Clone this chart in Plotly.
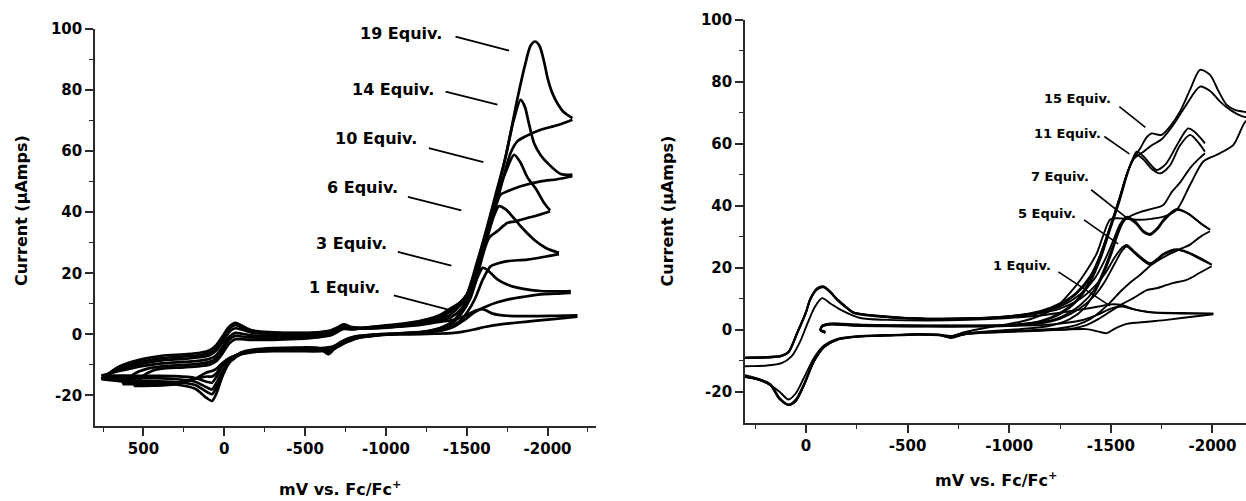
import plotly.graph_objects as go

# ---------------------------------------------------------------- left panel
# cyclic voltammograms, potential in mV vs Fc/Fc+, current in microamps
# each scan split into cathodic sweep (FWD) and anodic return (REV)

L1_FWD_E = [760, 650, 500, 386, 250, 150, 90, 50, 10, -30, -68, -110, -172, -300, -450, -580, -660, -700, -739, -790,
            -900, -1050, -1200, -1320, -1420, -1500, -1555, -1603, -1660, -1750, -1900, -2050, -2185]
L1_FWD_I = [-14.7, -10.5, -8.0, -7.0, -6.5, -6.0, -5.2, -3.5, -0.5, 2.5, 3.8, 2.8, 1.3, 0.7, 0.5, 0.7, 1.3, 2.3, 3.3, 2.4,
            2.0, 2.4, 3.0, 4.0, 4.8, 6.3, 7.8, 8.2, 6.8, 6.1, 6.0, 6.1, 6.2]
L1_REV_E = [-2185, -2050, -1917, -1800, -1710, -1620, -1545, -1480, -1421, -1300, -1150, -1000, -850, -760, -700, -645,
            -590, -450, -300, -180, -100, -40, 10, 50, 76, 110, 180, 300, 450, 600, 760]
L1_REV_I = [5.8, 5.1, 4.4, 3.8, 3.3, 2.5, 1.6, 0.9, 0.5, 0.2, 0.0, 0.0, -0.5, -1.5, -3.5, -6.5,
            -4.6, -4.3, -4.5, -5.0, -6.0, -8.5, -13.5, -19.5, -21.8, -20.8, -17.8, -16.4, -16.0, -15.6, -14.7]

L3_FWD_E = [760, 650, 500, 386, 250, 150, 90, 50, 10, -30, -68, -110, -172, -300, -450, -580, -660, -700, -739, -790,
            -900, -1050, -1200, -1320, -1400, -1460, -1520, -1570, -1600, -1640, -1690, -1750, -1813, -1900, -1958,
            -2050, -2144]
L3_FWD_I = [-14.5, -11.0, -8.8, -7.8, -7.2, -6.8, -6.0, -4.5, -1.5, 1.7, 3.0, 2.2, 1.0, 0.5, 0.4, 0.6, 1.1, 2.0, 3.0, 2.2,
            2.0, 2.5, 3.2, 4.4, 5.5, 8.0, 13.0, 19.0, 21.8, 20.5, 18.0, 16.3, 15.3, 14.5, 14.2, 14.1, 14.2]
L3_REV_E = [-2144, -2050, -1958, -1850, -1751, -1690, -1628, -1545, -1480, -1420, -1350, -1250, -1100, -950, -850, -760,
            -700, -645, -590, -450, -300, -180, -100, -40, 10, 50, 76, 110, 180, 300, 450, 600, 760]
L3_REV_I = [13.6, 13.3, 13.1, 12.3, 11.4, 10.5, 9.3, 7.1, 4.5, 2.5, 1.3, 0.6, 0.2, 0.0, -0.6, -1.8,
            -3.5, -5.8, -4.6, -4.6, -4.8, -5.3, -6.3, -8.5, -12.5, -17.5, -19.6, -18.8, -16.6, -15.6, -15.3, -15.0, -14.5]

L6_FWD_E = [750, 650, 500, 386, 250, 150, 90, 50, 10, -30, -68, -110, -172, -300, -450, -580, -660, -700, -739, -790,
            -900, -1050, -1200, -1320, -1400, -1460, -1500, -1560, -1620, -1670, -1700, -1740, -1793, -1834, -1917,
            -1990, -2071]
L6_FWD_I = [-14.0, -11.5, -9.5, -8.5, -8.0, -7.5, -6.8, -5.3, -2.5, 0.8, 2.0, 1.5, 0.6, 0.2, 0.2, 0.5, 1.0, 1.8, 2.8, 2.2,
            2.1, 2.6, 3.4, 4.8, 6.5, 9.5, 12.0, 21.0, 30.5, 39.0, 42.0, 41.0, 38.0, 35.4, 31.0, 28.3, 26.7]
L6_REV_E = [-2071, -1990, -1875, -1751, -1690, -1648, -1600, -1550, -1500, -1450, -1380, -1300, -1200, -1050, -900, -800,
            -720, -660, -620, -500, -300, -180, -100, -40, 10, 50, 76, 110, 180, 300, 450, 600, 750]
L6_REV_I = [26.3, 25.5, 24.5, 24.0, 23.2, 22.3, 18.0, 11.5, 7.0, 4.0, 2.0, 1.0, 0.5, 0.2, -0.2, -0.8,
            -2.5, -4.5, -5.0, -4.8, -5.0, -5.6, -6.6, -8.8, -12.0, -16.0, -18.0, -17.3, -15.5, -14.6, -14.3, -14.2, -14.0]

L10_FWD_E = [760, 650, 500, 386, 250, 150, 90, 50, 10, -30, -68, -110, -172, -300, -450, -580, -660, -700, -739, -790,
             -900, -1050, -1200, -1320, -1400, -1460, -1500, -1560, -1620, -1680, -1740, -1793, -1830, -1875, -1930,
             -1979, -2016]
L10_FWD_I = [-13.5, -12.0, -10.3, -9.5, -9.0, -8.6, -8.0, -6.8, -4.0, -0.8, 0.5, 0.2, -0.3, -0.5, -0.4, -0.1, 0.6, 1.5,
             2.5, 2.0, 2.2, 2.8, 3.7, 5.2, 7.5, 10.5, 13.0, 22.0, 33.0, 44.0, 53.0, 58.8, 56.5, 51.5, 47.5, 43.0, 40.6]
L10_REV_E = [-2016, -1940, -1875, -1800, -1751, -1690, -1638, -1600, -1560, -1520, -1470, -1420, -1350, -1250, -1100,
             -950, -820, -740, -670, -600, -450, -300, -180, -100, -40, 10, 50, 76, 110, 180, 300, 450, 600, 760]
L10_REV_I = [40.3, 39.0, 38.1, 37.0, 36.5, 33.8, 31.6, 26.0, 18.0, 11.5, 7.0, 4.0, 2.0, 0.8, 0.2,
             -0.3, -1.0, -2.5, -4.0, -4.5, -4.5, -4.8, -5.2, -6.2, -8.0, -10.5, -14.0, -15.8, -15.5, -14.3, -13.7,
             -13.6, -13.5, -13.5]

L14_FWD_E = [630, 560, 480, 386, 250, 150, 90, 50, 10, -30, -68, -110, -172, -300, -450, -580, -660, -700, -739, -790,
             -900, -1050, -1200, -1320, -1400, -1460, -1500, -1560, -1620, -1680, -1740, -1790, -1834, -1860, -1885,
             -1917, -1960, -2000, -2082, -2154]
L14_FWD_I = [-16.3, -13.0, -11.3, -10.5, -10.0, -9.6, -9.0, -7.8, -5.0, -1.8, -0.5, -0.7, -1.0, -1.2, -1.0, -0.6, 0.2,
             1.2, 2.2, 1.8, 2.3, 3.0, 4.0, 5.6, 8.0, 10.0, 12.5, 22.0, 33.5, 45.0, 58.0, 70.0, 76.8, 74.5, 69.0, 62.6,
             58.5, 56.1, 52.5, 52.3]
L14_REV_E = [-2154, -2060, -1958, -1834, -1760, -1710, -1680, -1640, -1600, -1560, -1520, -1470, -1420, -1350, -1250,
             -1100, -950, -820, -740, -670, -600, -450, -300, -180, -100, -40, 10, 50, 76, 110, 180, 300, 450, 560, 630]
L14_REV_I = [51.8, 50.8, 50.1, 48.5, 47.0, 45.8, 42.0, 36.0, 28.0, 20.0, 13.0, 7.5, 4.3, 2.2, 0.9,
             0.3, -0.3, -1.2, -2.8, -4.5, -5.0, -5.0, -5.2, -5.5, -6.3, -7.8, -10.0, -12.8, -13.8, -13.8, -14.5,
             -15.8, -16.2, -16.3, -16.3]

L19_FWD_E = [560, 500, 440, 386, 250, 150, 90, 50, 10, -30, -68, -110, -172, -300, -450, -580, -660, -700, -739, -790,
             -900, -1050, -1200, -1320, -1400, -1460, -1500, -1560, -1620, -1680, -1740, -1813, -1860, -1895, -1923,
             -1950, -1980, -2000, -2030, -2061, -2100, -2154]
L19_FWD_I = [-16.9, -13.5, -11.8, -11.2, -10.8, -10.4, -9.9, -8.8, -6.2, -3.0, -1.6, -1.6, -1.8, -1.8, -1.5, -1.0, -0.3,
             0.8, 1.8, 1.6, 2.4, 3.2, 4.3, 6.0, 8.5, 10.5, 13.0, 23.0, 34.0, 46.0, 58.0, 77.0, 88.0, 94.5, 95.9, 94.5,
             89.0, 84.0, 79.0, 75.7, 72.8, 70.8]
L19_REV_E = [-2154, -2060, -1958, -1870, -1813, -1772, -1740, -1700, -1650, -1600, -1560, -1520, -1470, -1420, -1350,
             -1250, -1100, -950, -820, -740, -670, -600, -450, -300, -180, -100, -40, 10, 50, 76, 110, 180, 300, 450, 560]
L19_REV_I = [70.3, 68.5, 67.0, 65.0, 63.2, 59.5, 54.0, 46.0, 37.0, 28.5, 20.5, 13.5, 8.0, 4.6, 2.4,
             1.0, 0.4, -0.2, -1.3, -3.0, -5.0, -5.5, -5.5, -5.5, -5.8, -6.5, -7.5, -9.3, -11.3, -12.0, -12.5, -14.5,
             -16.3, -16.8, -16.9]

# --------------------------------------------------------------- right panel
# first cathodic sweep (FWD1) from the rest potential, anodic return (REV),
# then second cathodic sweep (FWD2)

R1_FWD1_E = [-95, -72, -80, -110, -160, -250, -400, -600, -800, -1000, -1150, -1250, -1350, -1440, -1500, -1553, -1600,
             -1693, -1800, -1900, -2004]
R1_FWD1_I = [-1.0, -0.3, 1.0, 1.6, 1.6, 1.3, 1.1, 1.0, 1.0, 1.2, 1.5, 2.0, 3.0, 5.0, 6.8, 7.5, 6.8, 5.6, 5.3, 5.2, 5.2]
R1_REV_E = [-2004, -1900, -1775, -1680, -1578, -1520, -1480, -1440, -1380, -1250, -1100, -900, -780, -714, -660, -550,
            -400, -250, -150, -90, -40, 10, 50, 86, 130, 200, 280, 350]
R1_REV_I = [5.0, 4.2, 3.2, 2.6, 1.9, 0.4, -1.1, -0.6, 0.2, 0.0, -0.3, -0.8, -1.5, -2.7, -1.8, -1.5,
            -1.8, -2.2, -3.0, -5.0, -9.0, -15.5, -20.5, -22.5, -20.0, -16.8, -15.0, -14.0]
R1_FWD2_E = [350, 300, 200, 120, 70, 30, -10, -45, -79, -120, -169, -267, -400, -600, -800, -1000, -1150, -1250, -1350,
             -1440, -1500, -1553, -1620, -1700, -1850, -2004]
R1_FWD2_I = [-12.0, -11.8, -11.6, -10.8, -8.5, -4.0, 2.5, 7.5, 10.2, 8.5, 6.5, 3.8, 3.2, 3.0, 3.2, 3.8, 4.6, 5.5, 6.5,
             7.5, 8.2, 8.0, 6.5, 5.7, 5.4, 5.2]

R5_FWD1_E = [-95, -72, -80, -110, -160, -250, -400, -600, -800, -1000, -1150, -1250, -1350, -1420, -1470, -1520, -1555,
             -1578, -1620, -1693, -1730, -1758, -1824, -1880, -1950, -1996]
R5_FWD1_I = [-0.9, -0.2, 1.1, 1.7, 1.7, 1.4, 1.2, 1.1, 1.1, 1.3, 2.0, 3.5, 7.0, 11.0, 15.5, 21.5, 25.5, 26.9, 24.5, 21.0,
             22.5, 24.2, 25.8, 24.8, 22.5, 21.0]
R5_REV_E = [-1996, -1940, -1873, -1800, -1725, -1677, -1611, -1562, -1500, -1440, -1380, -1300, -1150, -950, -800, -740,
            -714, -660, -550, -400, -250, -150, -90, -40, 10, 50, 86, 130, 176, 240, 350]
R5_REV_I = [20.5, 18.5, 16.1, 15.0, 13.4, 12.8, 10.2, 8.5, 6.0, 3.5, 1.5, 0.3, -0.3, -0.8, -1.3, -2.0,
            -2.5, -1.8, -1.6, -1.9, -2.3, -3.3, -5.5, -10.0, -17.5, -22.5, -24.2, -22.0, -17.5, -15.8, -14.5]
R5_FWD2_E = [350, 300, 200, 120, 86, 44, 0, -21, -55, -87, -120, -152, -200, -234, -400, -600, -800, -1000, -1150, -1250,
             -1350, -1420, -1470, -1520, -1555, -1578, -1620, -1693, -1730, -1758, -1824, -1880, -1950, -1996]
R5_FWD2_I = [-9.3, -9.1, -9.0, -8.5, -7.3, -1.3, 5.5, 9.7, 13.0, 13.7, 12.0, 9.7, 7.0, 5.4, 4.0, 3.4, 3.5, 4.2, 5.3, 6.8,
             10.0, 14.0, 18.0, 23.5, 26.5, 27.4, 25.0, 21.5, 23.0, 24.5, 26.0, 25.0, 22.8, 21.0]

R7_FWD1_E = [-95, -72, -80, -110, -160, -250, -400, -600, -800, -1000, -1150, -1250, -1350, -1420, -1470, -1510, -1545,
             -1578, -1620, -1660, -1693, -1730, -1758, -1824, -1880, -1940, -1988]
R7_FWD1_I = [-0.8, -0.1, 1.2, 1.8, 1.8, 1.5, 1.3, 1.2, 1.2, 1.4, 2.3, 4.0, 8.0, 13.0, 20.0, 27.0, 33.0, 36.0, 34.5, 31.5,
             30.6, 32.5, 35.0, 38.7, 37.5, 34.5, 32.3]
R7_REV_E = [-1988, -1940, -1890, -1840, -1790, -1700, -1640, -1600, -1550, -1500, -1450, -1400, -1330, -1250, -1100, -950,
            -800, -740, -714, -660, -550, -400, -250, -150, -90, -40, 10, 50, 86, 130, 176, 240, 350]
R7_REV_I = [31.8, 30.0, 27.5, 26.0, 24.5, 21.0, 17.5, 15.5, 12.5, 9.0, 6.0, 3.5, 1.5, 0.5, -0.2, -0.7,
            -1.2, -2.0, -2.4, -1.7, -1.5, -1.8, -2.2, -3.2, -5.5, -10.0, -17.8, -22.8, -24.2, -22.2, -17.7, -15.9, -14.6]
R7_FWD2_E = [350, 300, 200, 120, 86, 44, 0, -21, -55, -87, -120, -152, -200, -234, -400, -600, -800, -1000, -1150, -1250,
             -1350, -1420, -1470, -1510, -1545, -1578, -1620, -1660, -1693, -1730, -1758, -1824, -1880, -1940, -1988]
R7_FWD2_I = [-9.0, -8.9, -8.8, -8.3, -7.1, -1.0, 5.8, 10.0, 13.3, 13.9, 12.2, 9.9, 7.2, 5.6, 4.2, 3.6, 3.7, 4.4, 5.6, 7.5,
             11.5, 16.5, 22.5, 28.5, 34.0, 36.5, 35.0, 32.0, 31.0, 33.0, 35.5, 39.0, 37.5, 34.5, 32.3]

R11_FWD1_E = [-95, -72, -80, -110, -160, -250, -400, -600, -800, -1000, -1150, -1250, -1330, -1400, -1450, -1500, -1545,
              -1580, -1610, -1627, -1660, -1700, -1725, -1770, -1820, -1860, -1881, -1910, -1940, -1963]
R11_FWD1_I = [-0.7, 0.0, 1.3, 1.9, 1.9, 1.6, 1.4, 1.3, 1.3, 1.5, 2.6, 5.0, 9.0, 15.5, 23.0, 33.0, 42.0, 50.0, 55.5, 57.5,
              56.0, 53.0, 51.6, 53.5, 59.0, 63.5, 65.0, 64.0, 62.0, 60.2]
R11_REV_E = [-1963, -1930, -1890, -1840, -1800, -1758, -1700, -1644, -1590, -1562, -1530, -1500, -1460, -1420, -1370,
             -1300, -1200, -1050, -900, -780, -714, -650, -550, -400, -250, -150, -90, -40, 10, 50, 86, 130, 176, 240, 350]
R11_REV_I = [57.0, 55.0, 52.2, 47.5, 44.5, 40.3, 39.0, 38.0, 36.5, 35.0, 30.0, 24.0, 17.5, 12.0, 7.0,
             3.5, 1.3, 0.2, -0.5, -1.2, -2.2, -1.6, -1.5, -1.8, -2.2, -3.3, -5.6, -10.2, -18.0, -23.0, -24.2, -22.3,
             -17.8, -16.0, -14.7]
R11_FWD2_E = [350, 300, 200, 120, 86, 44, 0, -21, -55, -87, -120, -152, -200, -234, -400, -600, -800, -1000, -1150,
              -1250, -1330, -1400, -1450, -1500, -1545, -1580, -1610, -1627, -1660, -1700, -1742, -1790, -1840, -1890,
              -1930, -1963]
R11_FWD2_I = [-9.1, -9.0, -8.9, -8.4, -7.2, -1.2, 5.6, 9.8, 13.2, 13.8, 12.1, 9.8, 7.1, 5.5, 4.1, 3.5, 3.6, 4.3, 5.8, 8.0,
              11.5, 17.0, 24.0, 33.5, 42.5, 50.5, 55.0, 56.5, 55.0, 52.0, 50.5, 53.0, 59.5, 62.9, 60.5, 57.5]

R15_FWD1_E = [-95, -72, -80, -110, -160, -250, -400, -600, -800, -1000, -1150, -1250, -1330, -1400, -1450, -1500, -1545,
              -1580, -1610, -1644, -1675, -1701, -1730, -1750, -1790, -1840, -1890, -1939, -1988, -2030, -2070, -2110,
              -2152, -2200]
R15_FWD1_I = [-0.6, 0.1, 1.4, 2.0, 2.0, 1.7, 1.5, 1.4, 1.4, 1.6, 2.8, 5.5, 9.5, 16.5, 24.5, 34.0, 43.0, 50.5, 55.0, 58.5,
              62.0, 63.4, 63.0, 62.9, 65.5, 70.4, 77.5, 83.9, 82.3, 77.0, 72.6, 71.0, 70.4, 69.8]
R15_REV_E = [-2200, -2162, -2103, -2021, -1955, -1890, -1824, -1760, -1700, -1640, -1580, -1530, -1496, -1460, -1431,
             -1390, -1349, -1300, -1234, -1150, -1050, -900, -780, -714, -650, -550, -400, -250, -150, -90, -40, 10, 50,
             86, 130, 176, 240, 350]
R15_REV_I = [68.5, 67.2, 59.7, 56.5, 54.3, 46.8, 38.7, 36.5, 35.8, 35.5, 35.8, 36.0, 35.5, 30.0, 24.7,
             20.0, 16.0, 12.0, 7.5, 4.5, 2.5, 0.8, -0.8, -2.0, -1.5, -1.4, -1.7, -2.1, -3.2, -5.4, -10.0, -17.8, -23.0,
             -24.3, -22.4, -17.8, -16.0, -14.8]
R15_FWD2_E = [350, 300, 200, 120, 86, 44, 0, -21, -55, -87, -120, -152, -200, -234, -400, -600, -800, -1000, -1150,
              -1250, -1330, -1400, -1450, -1500, -1545, -1580, -1610, -1661, -1700, -1750, -1807, -1870, -1939, -1990,
              -2040, -2087, -2152, -2200]
R15_FWD2_I = [-9.2, -9.1, -9.0, -8.5, -7.3, -1.2, 5.7, 9.9, 13.4, 14.0, 12.3, 10.0, 7.3, 5.6, 4.3, 3.6, 3.7, 4.4, 6.0,
              8.5, 12.0, 17.5, 24.5, 34.0, 43.0, 50.5, 55.0, 57.5, 59.5, 61.5, 66.1, 72.5, 78.5, 77.0, 73.5, 71.0, 68.8,
              68.3]

# ------------------------------------------------------------------- labels
LEFT_LABELS = ["19 Equiv.", "14 Equiv.", "10 Equiv.", "6 Equiv.", "3 Equiv.", "1 Equiv."]
RIGHT_LABELS = ["15 Equiv.", "11 Equiv.", "7 Equiv.", "5 Equiv.", "1 Equiv."]

X_TICKS_LEFT = [500, 0, -500, -1000, -1500, -2000]
X_MINOR_LEFT = [750, 250, -250, -750, -1250, -1750, -2250]
X_TICKS_RIGHT = [0, -500, -1000, -1500, -2000]
X_MINOR_RIGHT = [250, -250, -750, -1250, -1750]
Y_TICKS = [-20, 0, 20, 40, 60, 80, 100]
Y_MINOR = [-10, 10, 30, 50, 70, 90]

X_TITLE = "mV vs. Fc/Fc<sup>+</sup>"
Y_TITLE = "Current (μAmps)"

# ------------------------------------------------------------------- figure
FONT = "DejaVu Sans"
INK = "black"
AXIS = "#2a2a2a"

fig = go.Figure()


def add_branch(e, i, xa, ya, width):
    fig.add_trace(go.Scatter(
        x=e, y=i, mode="lines", xaxis=xa, yaxis=ya,
        line=dict(color=INK, width=width, shape="spline", smoothing=0.8),
        showlegend=False, hoverinfo="skip"))


left_scans = [
    (L1_FWD_E, L1_FWD_I), (L1_REV_E, L1_REV_I),
    (L3_FWD_E, L3_FWD_I), (L3_REV_E, L3_REV_I),
    (L6_FWD_E, L6_FWD_I), (L6_REV_E, L6_REV_I),
    (L10_FWD_E, L10_FWD_I), (L10_REV_E, L10_REV_I),
    (L14_FWD_E, L14_FWD_I), (L14_REV_E, L14_REV_I),
    (L19_FWD_E, L19_FWD_I), (L19_REV_E, L19_REV_I),
]
for e, i in left_scans:
    add_branch(e, i, "x", "y", 2.7)

right_scans = [
    (R1_FWD1_E, R1_FWD1_I), (R1_REV_E, R1_REV_I), (R1_FWD2_E, R1_FWD2_I),
    (R5_FWD1_E, R5_FWD1_I), (R5_REV_E, R5_REV_I), (R5_FWD2_E, R5_FWD2_I),
    (R7_FWD1_E, R7_FWD1_I), (R7_REV_E, R7_REV_I), (R7_FWD2_E, R7_FWD2_I),
    (R11_FWD1_E, R11_FWD1_I), (R11_REV_E, R11_REV_I), (R11_FWD2_E, R11_FWD2_I),
    (R15_FWD1_E, R15_FWD1_I), (R15_REV_E, R15_REV_I), (R15_FWD2_E, R15_FWD2_I),
]
for e, i in right_scans:
    add_branch(e, i, "x2", "y2", 1.9)

# label text anchors and leader lines (data coordinates of each panel)
left_text_pos = [(-1359, 98.6), (-1307, 80.1), (-1204, 64.1), (-1086, 48.2), (-1018, 29.7), (-977, 15.4)]
left_leaders = [((-1431, 97.5), (-1762, 92.9)), ((-1369, 79.5), (-1690, 75.2)),
                ((-1266, 61.0), (-1603, 56.4)), ((-1136, 45.0), (-1467, 40.6)),
                ((-1074, 27.0), (-1405, 22.5)), ((-1049, 12.8), (-1380, 8.2))]
right_text_pos = [(-1512, 74.7), (-1460, 63.3), (-1403, 49.5), (-1337, 37.4), (-1217, 20.7)]
right_leaders = [((-1542, 72.0), (-1670, 65.3)), ((-1468, 62.4), (-1591, 56.8)),
                 ((-1403, 45.2), (-1575, 36.3)), ((-1368, 35.5), (-1536, 27.7)),
                 ((-1242, 18.7), (-1496, 7.7))]

annotations = []
shapes = []
for txt, (x, y), ((x0, y0), (x1, y1)) in zip(LEFT_LABELS, left_text_pos, left_leaders):
    annotations.append(dict(text=txt, x=x, y=y, xref="x", yref="y", xanchor="right", yanchor="middle",
                            showarrow=False, font=dict(family=FONT, size=16, color=INK, weight="bold")))
    shapes.append(dict(type="line", xref="x", yref="y", x0=x0, y0=y0, x1=x1, y1=y1,
                       line=dict(color=INK, width=1.8)))
for txt, (x, y), ((x0, y0), (x1, y1)) in zip(RIGHT_LABELS, right_text_pos, right_leaders):
    annotations.append(dict(text=txt, x=x, y=y, xref="x2", yref="y2", xanchor="right", yanchor="middle",
                            showarrow=False, font=dict(family=FONT, size=13, color=INK, weight="bold")))
    shapes.append(dict(type="line", xref="x2", yref="y2", x0=x0, y0=y0, x1=x1, y1=y1,
                       line=dict(color=INK, width=1.6)))

title_font = dict(family=FONT, size=16, color=INK, weight="bold")
annotations += [
    dict(text=Y_TITLE, x=21 / 1246, y=(501 - 211) / 501, xref="paper", yref="paper", textangle=-90,
         xanchor="center", yanchor="middle", showarrow=False, font=title_font),
    dict(text=Y_TITLE, x=666.5 / 1246, y=(501 - 211) / 501, xref="paper", yref="paper", textangle=-90,
         xanchor="center", yanchor="middle", showarrow=False, font=title_font),
    dict(text=X_TITLE, x=340 / 1246, y=(501 - 488) / 501, xref="paper", yref="paper",
         xanchor="center", yanchor="middle", showarrow=False, font=title_font),
    dict(text=X_TITLE, x=996 / 1246, y=(501 - 479) / 501, xref="paper", yref="paper",
         xanchor="center", yanchor="middle", showarrow=False, font=title_font),
]

tick_font = dict(family=FONT, size=15, color=INK, weight="bold")


def axis_style(tickvals, minorvals):
    return dict(
        showgrid=False, zeroline=False, showline=True, linecolor=AXIS, linewidth=1.6,
        ticks="outside", ticklen=8, tickwidth=1.6, tickcolor=AXIS,
        tickmode="array", tickvals=tickvals, ticktext=[str(v) for v in tickvals],
        minor=dict(ticks="outside", ticklen=4, tickwidth=1.4, tickcolor=AXIS,
                   tickmode="array", tickvals=minorvals, showgrid=False),
        tickfont=tick_font, automargin=False, fixedrange=True,
    )


fig.update_layout(
    width=1246, height=501,
    margin=dict(l=0, r=0, t=0, b=0),
    paper_bgcolor="white", plot_bgcolor="white",
    xaxis=dict(domain=[95 / 1246, 596 / 1246], range=[800, -2300], anchor="y",
               **axis_style(X_TICKS_LEFT, X_MINOR_LEFT)),
    yaxis=dict(domain=[(501 - 426) / 501, (501 - 29) / 501], range=[-30, 100], anchor="x",
               **axis_style(Y_TICKS, Y_MINOR)),
    xaxis2=dict(domain=[745 / 1246, 1.0], range=[300, -2165], anchor="y2",
                **axis_style(X_TICKS_RIGHT, X_MINOR_RIGHT)),
    yaxis2=dict(domain=[(501 - 422.7) / 501, (501 - 20) / 501], range=[-30, 100], anchor="x2",
                **axis_style(Y_TICKS, Y_MINOR)),
    annotations=annotations,
    shapes=shapes,
)

fig.write_html("out.html")
